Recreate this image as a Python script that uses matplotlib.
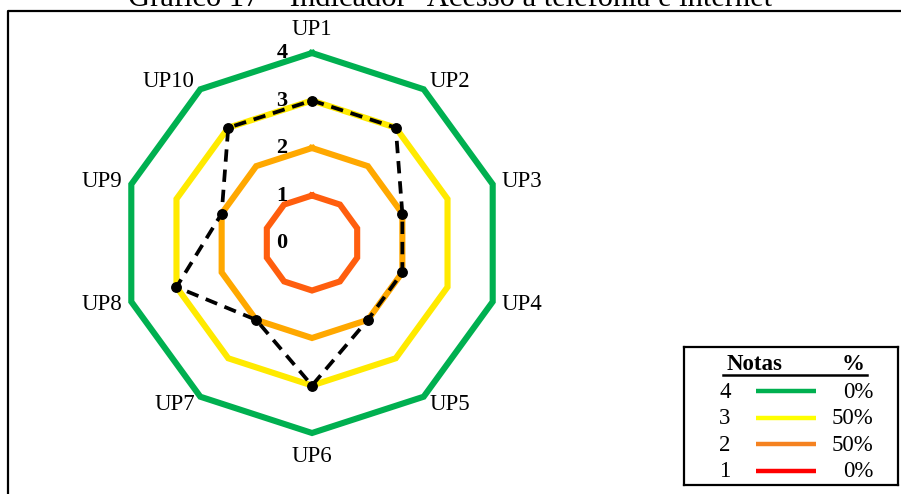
import numpy as np
import matplotlib
matplotlib.use('Agg')
import matplotlib.pyplot as plt
from matplotlib.lines import Line2D

UNITS = ['UP1', 'UP2', 'UP3', 'UP4', 'UP5', 'UP6', 'UP7', 'UP8', 'UP9', 'UP10']
SCORES = [3, 3, 2, 2, 2, 3, 2, 3, 2, 3]
RING_LEVELS = [1, 2, 3, 4]
RING_COLORS = ['#FF5E0E', '#FFA800', '#FFEA00', '#00B050']
SCALE_LABELS = [0, 1, 2, 3, 4]

LEGEND_NOTAS = [4, 3, 2, 1]
LEGEND_PERCENT = [0, 50, 50, 0]
LEGEND_COLORS = ['#00B050', '#FFFF00', '#F58220', '#FF0000']

TITLE = 'Gráfico 17 – Indicador "Acesso à telefonia e internet"'

FIG_W, FIG_H = 901, 494
CENTER_PX = (312, 243)
UNIT_PX = 47.5
FONT = 'Liberation Serif'
TEXT_SIZE = 16.5


def px_to_fig(x: float, y: float) -> tuple[float, float]:
    return x / FIG_W, 1 - y / FIG_H


def angles(n: int) -> np.ndarray:
    # clockwise from the top
    return np.arange(n) * 2 * np.pi / n


def to_xy(values, theta: np.ndarray) -> tuple[np.ndarray, np.ndarray]:
    r = np.asarray(values, dtype=float)
    return r * np.sin(theta), r * np.cos(theta)


def close(a: np.ndarray) -> np.ndarray:
    return np.append(a, a[0])


def draw_radar(ax) -> None:
    theta = angles(len(UNITS))

    for level, color in zip(RING_LEVELS, RING_COLORS):
        x, y = to_xy([level] * len(UNITS), theta)
        ax.plot(close(x), close(y), color=color, lw=4.4, solid_joinstyle='miter', zorder=2)

    x, y = to_xy(SCORES, theta)
    ax.plot(close(x), close(y), color='black', lw=2.7, ls=(0, (3.3, 2.1)), zorder=3)
    ax.plot(x, y, 'o', color='black', ms=6.8, zorder=4)

    for label, t in zip(UNITS, theta):
        s = np.sin(t)
        if abs(s) < 1e-6:
            lx, ly = to_xy(4.5, t)
            ha = 'center'
        else:
            lx, ly = to_xy(4.2, t)
            ha = 'left' if s > 0 else 'right'
        ax.text(lx, ly, label, ha=ha, va='center', fontsize=TEXT_SIZE, family=FONT)

    for level in SCALE_LABELS:
        ax.text(-0.63, level, str(level), ha='center', va='center', fontsize=16,
                fontweight='bold', family=FONT, zorder=5)


def draw_legend(fig) -> None:
    left, top, right, bottom = 684, 347, 898, 485
    x0, y0 = px_to_fig(left, bottom)
    leg = fig.add_axes([x0, y0, (right - left) / FIG_W, (bottom - top) / FIG_H])
    leg.set_xlim(0, right - left)
    leg.set_ylim(bottom - top, 0)
    leg.set_xticks([])
    leg.set_yticks([])
    for spine in leg.spines.values():
        spine.set_linewidth(1.6)

    leg.text(70, 18, 'Notas', ha='center', va='center', fontsize=TEXT_SIZE, fontweight='bold', family=FONT)
    leg.text(169, 18, '%', ha='center', va='center', fontsize=TEXT_SIZE, fontweight='bold', family=FONT)
    leg.plot([39, 183], [27.5, 27.5], color='black', lw=1.8)

    for i, (nota, pct, color) in enumerate(zip(LEGEND_NOTAS, LEGEND_PERCENT, LEGEND_COLORS)):
        y = 45 + i * 26.5
        leg.text(41, y, str(nota), ha='center', va='center', fontsize=TEXT_SIZE, family=FONT)
        leg.plot([72, 132], [y - 1, y - 1], color=color, lw=3.2, solid_capstyle='butt')
        leg.text(189, y, f'{pct}%', ha='right', va='center', fontsize=TEXT_SIZE, family=FONT)


def main() -> None:
    fig = plt.figure(figsize=(FIG_W / 100, FIG_H / 100), dpi=100)

    ax = fig.add_axes([0, 0, 1, 1])
    cx, cy = CENTER_PX
    ax.set_xlim(-cx / UNIT_PX, (FIG_W - cx) / UNIT_PX)
    ax.set_ylim(-(FIG_H - cy) / UNIT_PX, cy / UNIT_PX)
    ax.axis('off')

    draw_radar(ax)

    # outer frame, running off the right and bottom edges
    fx0, fy_bottom = px_to_fig(8, FIG_H + 5)
    _, fy_top = px_to_fig(8, 11)
    fx1, _ = px_to_fig(FIG_W + 5, 11)
    fig.add_artist(Line2D([fx0, fx0, fx1], [fy_bottom, fy_top, fy_top],
                          color='black', lw=1.6, transform=fig.transFigure))

    # title sits mostly above the top edge of the canvas
    tx, ty = px_to_fig(456, 6)
    fig.text(tx, ty, TITLE, ha='center', va='baseline', fontsize=22, family=FONT)

    draw_legend(fig)

    fig.savefig('out.png', dpi=100)
    plt.close(fig)


if __name__ == '__main__':
    main()
